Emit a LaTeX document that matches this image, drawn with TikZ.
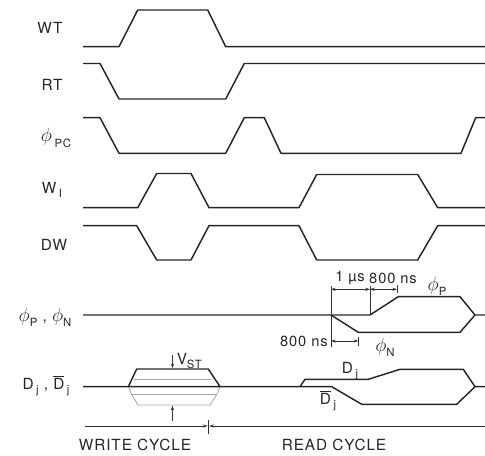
\documentclass[tikz,border=0pt]{standalone}
\usepackage{fontspec}
\setmainfont{TeX Gyre Heros}[LetterSpace=6]
\usetikzlibrary{arrows.meta}
\newcommand\sbs[1]{\raisebox{-0.55ex}{\fontsize{8.5}{9}\selectfont #1}}
\newcommand\ph{\raisebox{0.1ex}{\fontsize{13.5}{14}\selectfont$\phi$}}
\begin{document}
\begin{tikzpicture}[x=0.75pt,y=-0.75pt,
  sig/.style={line width=1.1pt, line join=round, draw=black!85},
  faint/.style={line width=0.6pt, draw=black!35},
  dim/.style={line width=0.5pt, draw=black!80},
  dimarr/.style={dim, {Stealth[length=3.5pt,width=2.4pt]}-{Stealth[length=3.5pt,width=2.4pt]}},
  onearr/.style={dim, -{Stealth[length=3.5pt,width=2.4pt]}},
  lbl/.style={font=\fontsize{11.5}{13}\selectfont, text=black!85, inner sep=0pt},
  small/.style={font=\fontsize{11}{12}\selectfont, text=black!85, inner sep=0pt}]
\useasboundingbox (0,0) rectangle (485,456);

% left labels
\node[lbl] (lWT) at (50,28) {WT};
\node[lbl] (lRT) at (52,85) {RT};
\node[lbl] (lPC) at (56,138) {\ph\,\sbs{PC}};
\node[lbl] (lWI) at (52,190) {W\,\sbs{I}};
\node[lbl] (lDW) at (54,245) {DW};
\node[lbl] (lPN) at (45,317) {\ph\sbs{P} , \ph\sbs{N}};
\node[lbl] (lDj) at (46,386) {D\,\sbs{j} , $\overline{\mbox{D}}$\,\sbs{j}};

% WT
\draw[sig] (83,46.7) -- (119,46.7) -- (137.7,10) -- (207.7,10) -- (225.7,46.7) -- (485,46.7);
% RT
\draw[sig] (83,63.5) -- (100,63.5) -- (119,99) -- (225.7,99) -- (244.3,63.5) -- (485,63.5);
% phi PC
\draw[sig] (83,117.7) -- (100,117.7) -- (119,153.3) -- (225.7,153.3) -- (244.3,117.7) -- (264.3,117.7)
  -- (281,153.3) -- (461,153.3) -- (475.7,117.7) -- (485,117.7);
% W_I
\draw[sig] (83,207.7) -- (137.7,207.7) -- (156.7,173.5) -- (191,173.5) -- (209,207.7) -- (299,207.7)
  -- (316.7,174.5) -- (417.7,174.5) -- (437.7,207.7) -- (485,207.7);
% DW
\draw[sig] (83,225.7) -- (136.7,225.7) -- (156.7,260) -- (191,260) -- (209,225.7) -- (299,225.7)
  -- (316.7,260) -- (417.7,260) -- (437.7,225.7) -- (485,225.7);
% phi P / phi N
\draw[sig] (83,315) -- (370,315) -- (398.3,296.7) -- (460,296.7) -- (475,315) -- (485,315);
\draw[sig] (331,315) -- (358.3,332.3) -- (460,332.3) -- (475,315);
% timing dimensions
\draw[dim] (331,286) -- (331,347);
\draw[dim] (370,286) -- (370,315);
\draw[dim] (397,285) -- (397,293);
\draw[dim] (358.3,336.5) -- (358.3,345.5);
\draw[dimarr] (331,289.3) -- (370,289.3);
\draw[dimarr] (370,289.3) -- (397,289.3);
\draw[dimarr] (331,341) -- (358.3,341);
\node[small] (t1) at (350,278) {1 µs};
\node[small] (t2) at (393,278) {800 ns};
\node[small, anchor=east] (t3) at (328,341) {800 ns};
\node[lbl] (lP) at (437,286) {\ph\sbs{P}};
\node[lbl] (lN) at (385,347) {\ph\sbs{N}};

% D_j lines
\draw[faint] (134,379) -- (211,379);
\draw[faint] (131,394) -- (216,394);
\draw[faint] (128.3,386.7) -- (131.5,394) -- (138,405) -- (210,405) -- (217,394) -- (220,386.7);
\draw[sig] (83,386.7) -- (300,386.7) -- (305,379.3) -- (368.3,379.3) -- (400,369.3) -- (463.3,369.3)
  -- (475,386.7) -- (485,386.7);
\draw[sig] (300,386.7) -- (331.7,386.7) -- (361.7,404.3) -- (456.7,404.3) -- (475,386.7);
\draw[sig] (128.3,386.7) -- (136.7,369) -- (208.3,369) -- (220,386.7);
% V_ST
\coordinate (vtop) at (172.5,355);
\coordinate (vbot) at (172.5,421);
\draw[onearr] (vtop) -- (172.5,368.2);
\draw[onearr] (vbot) -- (172.5,405.7);
\node[lbl, anchor=west] (lVST) at (176.5,361) {V\sbs{ST}};
\node[lbl] (lDj2) at (350,371) {D\,\sbs{j}};
\node[lbl] (lDbj) at (328,401) {$\overline{\mbox{D}}$\,\sbs{j}};

% cycles
\draw[dim] (208.3,420) -- (208.3,434);
\draw[onearr] (85,426) -- (207.5,426);
\draw[onearr] (485,426) -- (209.1,426);
\node[lbl] (wc) at (135,445) {WRITE CYCLE};
\node[lbl] (rc) at (334,445) {READ CYCLE};
\end{tikzpicture}
\end{document}
